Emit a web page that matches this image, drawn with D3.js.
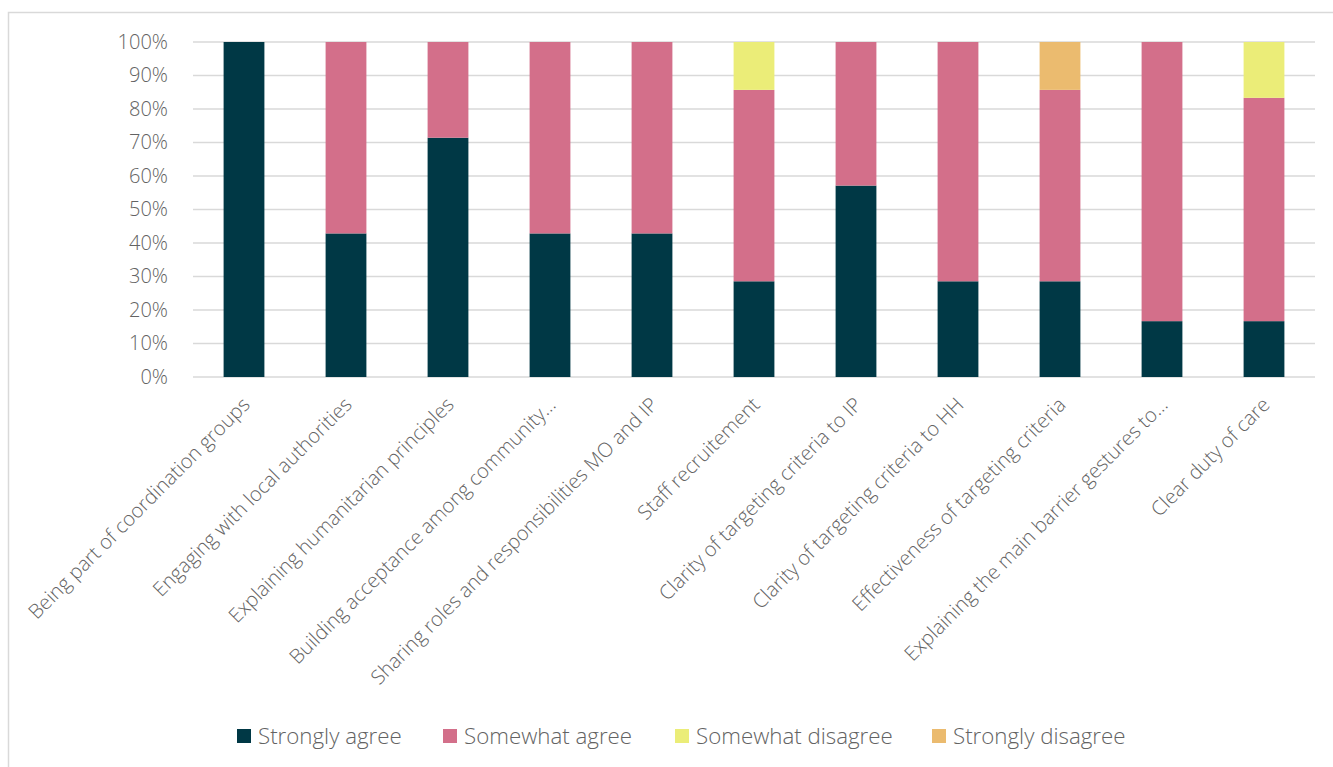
<!DOCTYPE html>
<html>
<head>
<meta charset="utf-8">
<script src="https://cdn.jsdelivr.net/npm/d3@7"></script>
<style>
  html, body { margin: 0; padding: 0; background: #fff; }
  svg { display: block; font-family: "Open Sans", "Noto Sans", sans-serif; }
</style>
</head>
<body>
<svg id="chart" width="1333" height="767"></svg>
<script>
// Survey statements (x axis)
const categories = [
  "Being part of coordination groups",
  "Engaging with local authorities",
  "Explaining humanitarian principles",
  "Building acceptance among community…",
  "Sharing roles and responsibilities MO and IP",
  "Staff recruitement",
  "Clarity of targeting criteria to IP",
  "Clarity of targeting criteria to HH",
  "Effectiveness of targeting criteria",
  "Explaining the main barrier gestures to…",
  "Clear duty of care"
];

// Share of answers (%) per statement
const stronglyAgree    = [100, 42.86, 71.43, 42.86, 42.86, 28.57, 57.14, 28.57, 28.57, 16.67, 16.67];
const somewhatAgree    = [0, 57.14, 28.57, 57.14, 57.14, 57.14, 42.86, 71.43, 57.14, 83.33, 66.67];
const somewhatDisagree = [0, 0, 0, 0, 0, 14.29, 0, 0, 0, 0, 16.66];
const stronglyDisagree = [0, 0, 0, 0, 0, 0, 0, 0, 14.29, 0, 0];

const seriesNames = ["Strongly agree", "Somewhat agree", "Somewhat disagree", "Strongly disagree"];
const seriesColors = ["#003845", "#D36F8A", "#EBED78", "#EBBB6F"];
const yTicks = [0, 10, 20, 30, 40, 50, 60, 70, 80, 90, 100];

const svg = d3.select("#chart");
const textColor = "#636363";

// outer chart frame
svg.append("rect")
  .attr("x", 8.5).attr("y", 12.5)
  .attr("width", 1400).attr("height", 800)
  .attr("fill", "none").attr("stroke", "#d9d9d9").attr("stroke-width", 1.5);

const plot = { left: 193, right: 1315, top: 42, bottom: 377 };

const x = d3.scaleBand()
  .domain(categories)
  .range([plot.left, plot.right])
  .paddingInner(0.6)
  .paddingOuter(0.3);

const y = d3.scaleLinear()
  .domain([0, 100])
  .range([plot.bottom, plot.top]);

// gridlines
svg.append("g")
  .selectAll("line")
  .data(yTicks)
  .join("line")
  .attr("x1", plot.left).attr("x2", plot.right)
  .attr("y1", d => y(d)).attr("y2", d => y(d))
  .attr("stroke", "#d9d9d9").attr("stroke-width", 1.5);

// y axis labels
const yAxis = svg.append("g")
  .attr("transform", `translate(${plot.left - 25},0)`)
  .call(d3.axisLeft(y).tickValues(yTicks).tickFormat(d => d + "%").tickSize(0).tickPadding(0));
yAxis.select(".domain").remove();
yAxis.selectAll("text")
  .attr("font-size", 20).attr("font-weight", 300)
  .attr("fill", textColor)
  .attr("font-family", "'Open Sans', sans-serif");

// stacked bars
const rows = categories.map((c, i) => ({
  category: c,
  "Strongly agree": stronglyAgree[i],
  "Somewhat agree": somewhatAgree[i],
  "Somewhat disagree": somewhatDisagree[i],
  "Strongly disagree": stronglyDisagree[i]
}));
const stacked = d3.stack().keys(seriesNames)(rows);

svg.append("g")
  .selectAll("g")
  .data(stacked)
  .join("g")
  .attr("fill", (d, i) => seriesColors[i])
  .selectAll("rect")
  .data(d => d)
  .join("rect")
  .attr("x", d => x(d.data.category))
  .attr("width", x.bandwidth())
  .attr("y", d => y(d[1]))
  .attr("height", d => y(d[0]) - y(d[1]));

// x axis labels, rotated
const xAxis = svg.append("g")
  .attr("transform", `translate(0,${plot.bottom})`)
  .call(d3.axisBottom(x).tickSize(0).tickPadding(0));
xAxis.select(".domain").remove();
xAxis.selectAll("text")
  .attr("font-size", 20).attr("font-weight", 300)
  .attr("fill", textColor)
  .attr("font-family", "'Open Sans', sans-serif")
  .attr("text-anchor", "end")
  .attr("dy", 0)
  .attr("transform", "translate(7,29) rotate(-45)");

// legend
const legendX = [237, 443, 675, 932];
const legend = svg.append("g")
  .selectAll("g")
  .data(seriesNames)
  .join("g")
  .attr("transform", (d, i) => `translate(${legendX[i]},736)`);
legend.append("rect")
  .attr("x", 0).attr("y", -7).attr("width", 14).attr("height", 14)
  .attr("fill", (d, i) => seriesColors[i]);
legend.append("text")
  .attr("x", 21).attr("y", 0).attr("dy", "0.35em")
  .attr("font-size", 22.3).attr("font-weight", 300)
  .attr("fill", textColor)
  .text(d => d);
</script>
</body>
</html>
